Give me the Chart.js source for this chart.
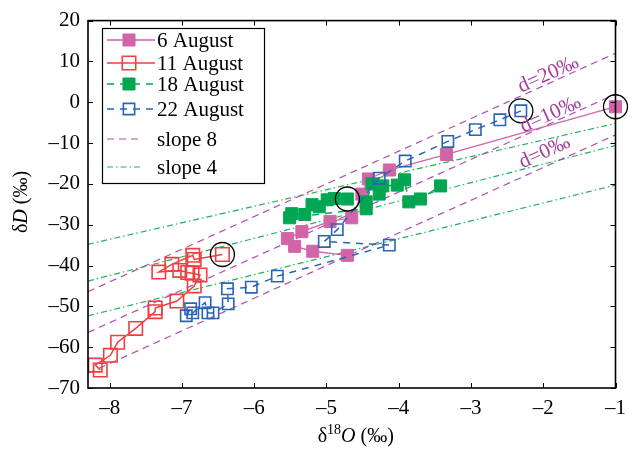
<!DOCTYPE html>
<html>
<head>
<meta charset="utf-8">
<script src="https://cdn.jsdelivr.net/npm/chart.js@4.4.0/dist/chart.umd.min.js"></script>
<style>
 html,body{margin:0;padding:0;background:#fff}
</style>
</head>
<body>
<canvas id="myCanvas" width="634" height="454"></canvas>
<script>
 // values (delta 18O on x, delta D on y)
 var aug6X  = [-1.00, -3.34, -4.13, -4.42, -4.51, -4.65, -4.95, -5.34, -5.54, -5.44, -5.19, -4.71];
 var aug6Y  = [-1.1, -12.8, -16.6, -18.8, -22.5, -28.3, -29.2, -31.7, -33.4, -35.3, -36.5, -37.5];
 var aug11X = [-6.44, -6.83, -6.85, -7.14, -7.32, -7.03, -6.92, -6.86, -6.75, -6.83, -7.07, -7.37, -7.37, -7.64, -7.89, -7.99, -8.20, -8.13];
 var aug11Y = [-37.3, -38.5, -37.5, -39.7, -41.6, -41.2, -41.7, -41.9, -42.3, -45.0, -48.7, -50.4, -51.3, -55.4, -58.8, -62.0, -64.4, -65.6];
 var aug18X = [-4.71, -4.89, -4.99, -5.10, -5.20, -5.30, -5.48, -5.51, -4.45, -4.45, -4.37, -4.27, -4.22, -4.02, -3.92, -3.86, -3.70, -3.42];
 var aug18Y = [-23.7, -23.6, -23.9, -25.6, -25.1, -27.5, -27.3, -28.3, -26.1, -24.4, -20.0, -22.5, -20.5, -20.3, -19.0, -24.4, -23.7, -20.5];
 var aug22X = [-2.31, -2.60, -2.94, -3.32, -3.91, -4.27, -4.85, -5.03, -4.13, -5.68, -6.04, -6.37, -6.36, -6.57, -6.64, -6.68, -6.85, -6.88, -6.94];
 var aug22Y = [-2.1, -4.3, -6.7, -9.6, -14.4, -18.6, -31.2, -34.1, -35.0, -42.6, -45.3, -45.7, -49.4, -51.6, -51.6, -49.1, -51.6, -50.6, -52.3];

 var xRange = [-8.3, -1];
 var slope8D = [20, 10, 0];            // deuterium excess of the slope 8 lines
 var slope4Left = [-34.8, -43.8, -52.3]; // slope 4 lines, delta D at left edge
 var slope4Right = [-5.2, -10.6, -20.3]; // ... and at right edge
 var dLabelX = [-1.93, -1.90, -1.98];
 var dLabelY = [6.8, -3.0, -12.3];

 var xTicks = [-8, -7, -6, -5, -4, -3, -2, -1];
 var yTicks = [-70, -60, -50, -40, -30, -20, -10, 0, 10, 20];

 var serif = "'Liberation Serif', 'Times New Roman', serif";
 var pink = '#d264a8', red = '#ee4040', green = '#00a651', blue = '#2a64b6';
 var mag = '#b24db0', dashGreen = '#22b15c';

 function pts(xs, ys){
     return xs.map(function(x, i){ return {x: x, y: ys[i]}; });
 }
 function dash(v){ return String(v).replace('-', '\u2013'); }

 var datasets = [];
 datasets.push({ label: 'circles', data: [pts(aug6X,aug6Y)[0], pts(aug11X,aug11Y)[0], pts(aug18X,aug18Y)[0], pts(aug22X,aug22Y)[0]],
     showLine: false, pointStyle: 'circle', pointRadius: 12, backgroundColor: 'rgba(0,0,0,0)', pointBackgroundColor: 'rgba(0,0,0,0)',
     borderColor: '#000', pointBorderColor: '#000', pointBorderWidth: 1.3, order: 0, clip: false });
 datasets.push({ label: '22 August', data: pts(aug22X, aug22Y), showLine: true, borderColor: blue, backgroundColor: 'rgba(0,0,0,0)',
     borderWidth: 1.5, borderDash: [7, 6], pointStyle: 'rect', pointRadius: 8, pointBorderWidth: 1.6, order: 1, clip: false });
 datasets.push({ label: '18 August', data: pts(aug18X, aug18Y), showLine: true, borderColor: green, backgroundColor: green,
     borderWidth: 1.5, borderDash: [7, 6], pointStyle: 'rect', pointRadius: 8.5, pointBorderWidth: 1, order: 2, clip: false });
 datasets.push({ label: '11 August', data: pts(aug11X, aug11Y), showLine: true, borderColor: red, backgroundColor: 'rgba(0,0,0,0)',
     borderWidth: 1.5, pointStyle: 'rect', pointRadius: 9.5, pointBorderWidth: 1.6, order: 3, clip: false });
 datasets.push({ label: '6 August', data: pts(aug6X, aug6Y), showLine: true, borderColor: pink, backgroundColor: pink,
     borderWidth: 1.3, pointStyle: 'rect', pointRadius: 8.5, pointBorderWidth: 1, order: 4, clip: false });
 slope8D.forEach(function(d, i){
     datasets.push({ label: 'slope 8', data: [{x: xRange[0], y: 8*xRange[0]+d}, {x: xRange[1], y: 8*xRange[1]+d}],
         showLine: true, borderColor: mag, borderWidth: 1.2, borderDash: [7, 5], pointRadius: 0, order: 5 });
 });
 slope4Left.forEach(function(v, i){
     datasets.push({ label: 'slope 4', data: [{x: xRange[0], y: v}, {x: xRange[1], y: slope4Right[i]}],
         showLine: true, borderColor: dashGreen, borderWidth: 1.2, borderDash: [6, 3, 1.5, 3], pointRadius: 0, order: 6 });
 });

 // frame with inward ticks
 var framePlugin = {
     id: 'frame',
     afterDatasetsDraw: function(chart){
         var ctx = chart.ctx, a = chart.chartArea, sx = chart.scales.x, sy = chart.scales.y;
         ctx.save();
         ctx.strokeStyle = '#000';
         ctx.lineWidth = 1;
         ctx.setLineDash([]);
         ctx.beginPath();
         sx.ticks.forEach(function(t){
             var p = Math.round(sx.getPixelForValue(t.value)) + 0.5;
             ctx.moveTo(p, a.bottom); ctx.lineTo(p, a.bottom - 5);
             ctx.moveTo(p, a.top); ctx.lineTo(p, a.top + 5);
         });
         sy.ticks.forEach(function(t){
             var p = Math.round(sy.getPixelForValue(t.value)) + 0.5;
             ctx.moveTo(a.left, p); ctx.lineTo(a.left + 5, p);
             ctx.moveTo(a.right, p); ctx.lineTo(a.right - 5, p);
         });
         ctx.stroke();
         ctx.lineWidth = 1.6;
         ctx.strokeRect(a.left, a.top, a.right - a.left, a.bottom - a.top);
         ctx.restore();
     }
 };

 // d= labels along the slope 8 lines
 var dLabelPlugin = {
     id: 'dlabels',
     afterDatasetsDraw: function(chart){
         var ctx = chart.ctx, sx = chart.scales.x, sy = chart.scales.y;
         var ang = Math.atan2(sy.getPixelForValue(8) - sy.getPixelForValue(0), sx.getPixelForValue(1) - sx.getPixelForValue(0));
         ctx.save();
         ctx.fillStyle = '#a33d9c';
         ctx.font = '21px ' + serif;
         ctx.textAlign = 'center';
         ctx.textBaseline = 'middle';
         slope8D.forEach(function(d, i){
             ctx.save();
             ctx.translate(sx.getPixelForValue(dLabelX[i]), sy.getPixelForValue(dLabelY[i]));
             ctx.rotate(ang);
             ctx.fillText('d=' + d + '\u2030', 0, 0);
             ctx.restore();
         });
         ctx.restore();
     }
 };

 // legend box in the top left corner
 var legendPlugin = {
     id: 'boxlegend',
     afterDraw: function(chart){
         var ctx = chart.ctx;
         var rows = [40, 63, 84, 109, 139, 167];
         var names = ['6 August', '11 August', '18 August', '22 August', 'slope 8', 'slope 4'];
         ctx.save();
         ctx.fillStyle = '#fff';
         ctx.fillRect(102, 28, 162, 155);
         ctx.strokeStyle = '#000';
         ctx.lineWidth = 1.2;
         ctx.strokeRect(102.5, 28.5, 162, 155);
         names.forEach(function(n, i){
             var ds = chart.data.datasets.find(function(d){ return d.label === n; });
             var y = rows[i];
             var x1 = 107, x2 = ds.pointRadius ? 155 : 140;
             ctx.strokeStyle = ds.borderColor;
             ctx.lineWidth = ds.borderWidth;
             ctx.setLineDash(ds.borderDash || []);
             ctx.beginPath(); ctx.moveTo(x1, y); ctx.lineTo(x2, y); ctx.stroke();
             ctx.setLineDash([]);
             if (ds.pointRadius) {
                 ctx.fillStyle = ds.backgroundColor;
                 ctx.strokeStyle = ds.borderColor;
                 ctx.lineWidth = ds.pointBorderWidth;
                 Chart.helpers.drawPoint(ctx, {pointStyle: ds.pointStyle, radius: ds.pointRadius, rotation: 0, borderWidth: ds.pointBorderWidth}, 129, y);
             }
             ctx.fillStyle = '#000';
             ctx.font = '21px ' + serif;
             ctx.textBaseline = 'middle';
             ctx.textAlign = 'left';
             ctx.fillText(n, 157, y + 1);
         });
         ctx.restore();
     }
 };

 // axis titles with italic letters and superscript
 function richText(ctx, parts, cx, cy){
     var w = 0;
     parts.forEach(function(p){ ctx.font = p.f; w += ctx.measureText(p.t).width; });
     var x = cx - w / 2;
     parts.forEach(function(p){
         ctx.font = p.f;
         ctx.fillText(p.t, x, cy + (p.dy || 0));
         x += ctx.measureText(p.t).width;
     });
 }
 var titlePlugin = {
     id: 'titles',
     afterDraw: function(chart){
         var ctx = chart.ctx, a = chart.chartArea;
         ctx.save();
         ctx.fillStyle = '#000';
         ctx.textBaseline = 'middle';
         ctx.textAlign = 'left';
         var nf = '20px ' + serif, itf = 'italic 20px ' + serif, sf = '14px ' + serif;
         richText(ctx, [{t: '\u03b4', f: nf}, {t: '18', f: sf, dy: -7}, {t: 'O', f: itf}, {t: ' (\u2030)', f: nf}], (a.left + a.right) / 2 + 4, 437);
         ctx.translate(22, 202);
         ctx.rotate(-Math.PI / 2);
         richText(ctx, [{t: '\u03b4', f: nf}, {t: 'D', f: itf}, {t: ' (\u2030)', f: nf}], 0, 0);
         ctx.restore();
     }
 };

 var myChart = new Chart(document.getElementById('myCanvas'), {
     type: 'scatter',
     data: { datasets: datasets },
     options: {
         responsive: false,
         animation: false,
         layout: { padding: { top: 17, right: 16, left: 0, bottom: 0 } },
         plugins: { legend: { display: false }, tooltip: { enabled: false } },
         scales: {
             x: {
                 type: 'linear', min: xRange[0], max: xRange[1],
                 grid: { display: false, drawTicks: false }, border: { display: false },
                 ticks: { color: '#000', font: { family: serif, size: 21 }, padding: 8, callback: dash, maxRotation: 0 },
                 afterBuildTicks: function(s){ s.ticks = xTicks.map(function(v){ return {value: v}; }); },
                 afterFit: function(s){ s.height = 66; }
             },
             y: {
                 type: 'linear', min: -70, max: 20,
                 grid: { display: false, drawTicks: false }, border: { display: false },
                 ticks: { color: '#000', font: { family: serif, size: 21 }, padding: 8, callback: dash },
                 afterBuildTicks: function(s){ s.ticks = yTicks.map(function(v){ return {value: v}; }); },
                 afterFit: function(s){ s.width = 88; }
             }
         }
     },
     plugins: [framePlugin, dLabelPlugin, legendPlugin, titlePlugin]
 });
</script>
</body>
</html>
